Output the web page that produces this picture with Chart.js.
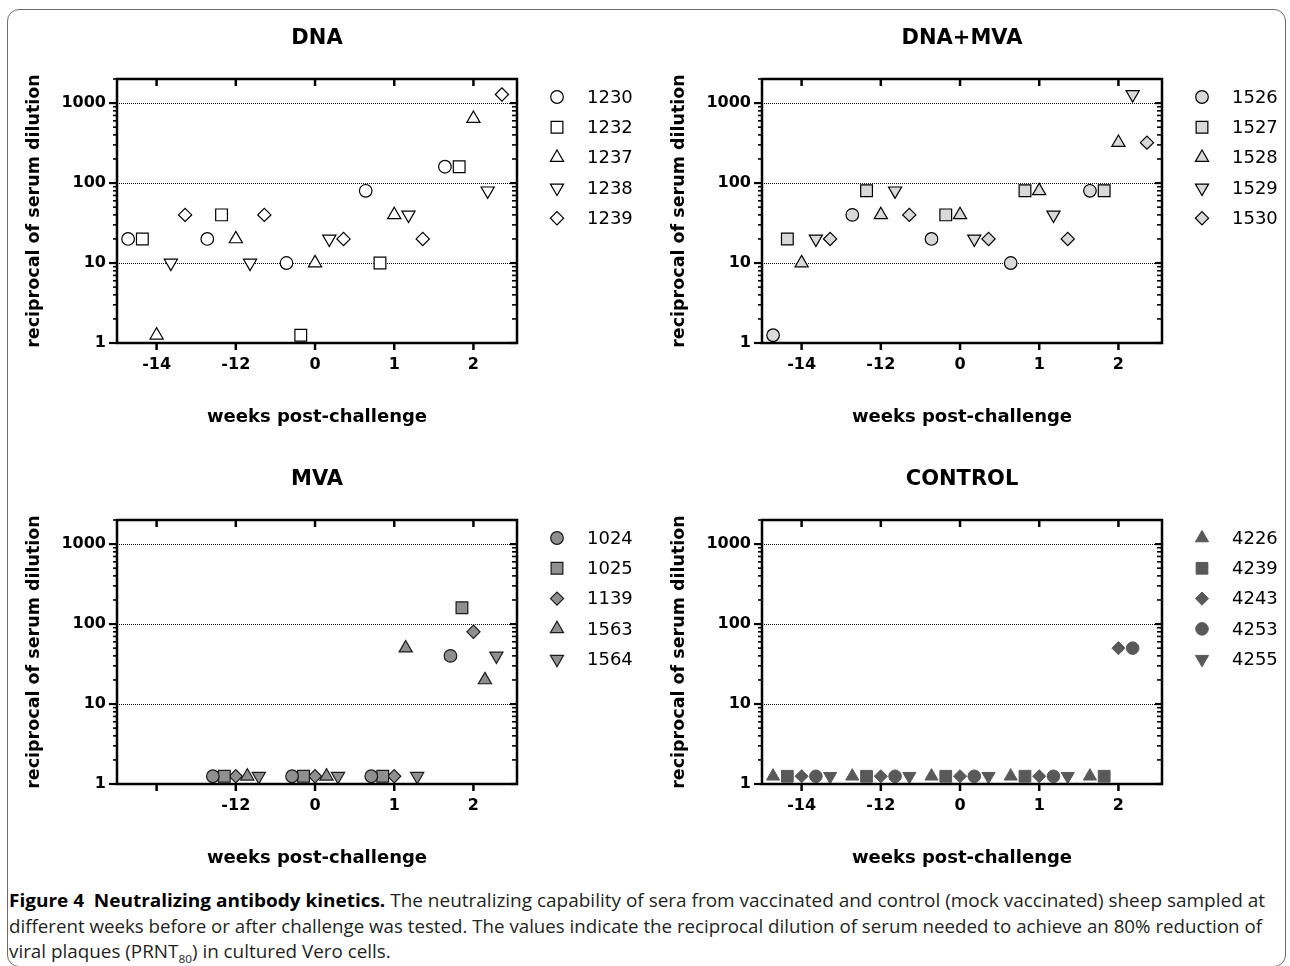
<!DOCTYPE html>
<html>
<head>
<meta charset="utf-8">
<script src="https://cdn.jsdelivr.net/npm/chart.js@4.4.1/dist/chart.umd.min.js"></script>
<style>
  html, body { margin: 0; padding: 0; background: #fff; }
  body { width: 1290px; height: 966px; position: relative; overflow: hidden; }
  .moldura { position: absolute; left: 7px; top: 9px; width: 1277px; height: 956px; border: 1px solid #6b6b6b; border-radius: 12px; }
  .painel { position: absolute; }
  .legenda { position: absolute; left: 9px; display: inline-block; white-space: nowrap; font-family: "Open Sans", sans-serif; font-size: 17.5px; line-height: 26px; color: #231f20; transform-origin: 0 50%; }
  .legenda b { color: #000; font-weight: 700; }
  .legenda sub { font-size: 11px; line-height: 0; }
</style>
</head>
<body>
<div class="moldura"></div>
<canvas id="gDna" class="painel" width="645" height="440" style="left:0;top:0"></canvas>
<canvas id="gDnaMva" class="painel" width="645" height="440" style="left:645px;top:0"></canvas>
<canvas id="gMva" class="painel" width="645" height="440" style="left:0;top:441px"></canvas>
<canvas id="gControle" class="painel" width="645" height="440" style="left:645px;top:441px"></canvas>

<div class="legenda" id="linha1" style="top:887px"><b>Figure 4&nbsp; Neutralizing antibody kinetics.</b> The neutralizing capability of sera from vaccinated and control (mock vaccinated) sheep sampled at</div>
<div class="legenda" id="linha2" style="top:913px">different weeks before or after challenge was tested. The values indicate the reciprocal dilution of serum needed to achieve an 80% reduction of</div>
<div class="legenda" id="linha3" style="top:938px">viral plaques (PRNT<sub>80</sub>) in cultured Vero cells.</div>

<script>
// Semanas (categorias do eixo x)
const semanas = ['-14', '-12', '0', '1', '2'];
// No painel MVA não há rótulo na semana -14
const semanasMva = ['', '-12', '0', '1', '2'];
// Marcas do eixo y (log)
const marcasY = [1, 10, 100, 1000];

// DNA
const dnaAnimais = ['1230', '1232', '1237', '1238', '1239'];
const dna1230 = [20, 20, 10, 80, 160];
const dna1232 = [20, 40, 1.25, 10, 160];
const dna1237 = [1.25, 20, 10, 40, 640];
const dna1238 = [10, 10, 20, 40, 80];
const dna1239 = [40, 40, 20, 20, 1280];

// DNA+MVA
const dnaMvaAnimais = ['1526', '1527', '1528', '1529', '1530'];
const dnaMva1526 = [1.25, 40, 20, 10, 80];
const dnaMva1527 = [20, 80, 40, 80, 80];
const dnaMva1528 = [10, 40, 40, 80, 320];
const dnaMva1529 = [20, 80, 20, 40, 1280];
const dnaMva1530 = [20, 40, 20, 20, 320];

// MVA
const mvaAnimais = ['1024', '1025', '1139', '1563', '1564'];
const mva1024 = [null, 1.25, 1.25, 1.25, 40];
const mva1025 = [null, 1.25, 1.25, 1.25, 160];
const mva1139 = [null, 1.25, 1.25, 1.25, 80];
const mva1563 = [null, 1.25, 1.25, 50, 20];
const mva1564 = [null, 1.25, 1.25, 1.25, 40];

// CONTROL
const controleAnimais = ['4226', '4239', '4243', '4253', '4255'];
const ctrl4226 = [1.25, 1.25, 1.25, 1.25, 1.25];
const ctrl4239 = [1.25, 1.25, 1.25, 1.25, 1.25];
const ctrl4243 = [1.25, 1.25, 1.25, 1.25, 50];
const ctrl4253 = [1.25, 1.25, 1.25, 1.25, 50];
const ctrl4255 = [1.25, 1.25, 1.25, 1.25, null];

const fonte = '"DejaVu Sans", sans-serif';

// Formas dos marcadores
const formas = {
  circulo: { pointStyle: 'circle', r: 6.3, rot: 0 },
  quadrado: { pointStyle: 'rect', r: 8.3, rot: 0 },
  triangulo: { pointStyle: 'triangle', r: 7.6, rot: 0 },
  invertido: { pointStyle: 'triangle', r: 7.6, rot: 180 },
  losango: { pointStyle: 'rectRot', r: 6.6, rot: 0 }
};

// Desenha moldura, marcas dos eixos, títulos e legenda
const decoracao = {
  id: 'decoracao',
  afterDraw(chart, args, opts) {
    const { ctx, chartArea: a, scales: { x, y } } = chart;
    ctx.save();
    ctx.strokeStyle = '#000';
    ctx.lineWidth = 2.5;
    ctx.strokeRect(a.left, a.top, a.right - a.left, a.bottom - a.top);

    const linha = (x1, y1, x2, y2) => {
      ctx.beginPath(); ctx.moveTo(x1, y1); ctx.lineTo(x2, y2); ctx.stroke();
    };
    // marcas do eixo x (em baixo para fora, em cima para dentro)
    ctx.lineWidth = 2.5;
    x.ticks.forEach(t => {
      const px = x.getPixelForValue(t.value);
      linha(px, a.bottom, px, a.bottom + 7);
      linha(px, a.top, px, a.top + 7);
    });
    // marcas maiores e menores do eixo y
    for (let k = 0; k < 4; k++) {
      for (let m = 1; m <= 9; m++) {
        const v = m * Math.pow(10, k);
        if (v > y.max) break;
        const py = y.getPixelForValue(v);
        const maior = m === 1;
        ctx.lineWidth = maior ? 2.2 : 1.6;
        linha(a.left - (maior ? 8 : 4), py, a.left, py);
        linha(a.right, py, a.right - (maior ? 7 : 5), py);
      }
    }

    // títulos
    ctx.fillStyle = '#000';
    ctx.textAlign = 'center';
    ctx.textBaseline = 'middle';
    ctx.font = 'bold 21px ' + fonte;
    ctx.fillText(opts.titulo, (a.left + a.right) / 2, a.top - 40);
    ctx.font = 'bold 18px ' + fonte;
    ctx.fillText('weeks post-challenge', (a.left + a.right) / 2, a.bottom + 74);
    ctx.save();
    ctx.translate(34, (a.top + a.bottom) / 2);
    ctx.rotate(-Math.PI / 2);
    ctx.font = 'bold 17.5px ' + fonte;
    ctx.fillText('reciprocal of serum dilution', 0, 0);
    ctx.restore();

    // legenda
    ctx.textAlign = 'left';
    ctx.font = '18px ' + fonte;
    chart.data.datasets.forEach((ds, i) => {
      const ly = a.top + 18 + i * 30.3;
      ctx.fillStyle = ds.backgroundColor;
      ctx.strokeStyle = ds.borderColor;
      ctx.lineWidth = ds.borderWidth;
      Chart.helpers.drawPoint(ctx, {
        pointStyle: ds.pointStyle,
        radius: ds.pointRadius,
        rotation: ds.pointRotation,
        borderWidth: ds.borderWidth
      }, a.right + 40, ly);
      ctx.fillStyle = '#000';
      ctx.fillText(ds.label, a.right + 70, ly + 1);
    });
    ctx.restore();
  }
};

function criaPainel(id, titulo, animais, series, estilos, cores, largura, rotulosX) {
  const desloc = [-largura, -largura / 2, 0, largura / 2, largura];
  const datasets = series.map((valores, i) => {
    const f = formas[estilos[i]];
    return {
      label: animais[i],
      data: valores
        .map((v, s) => (v == null ? null : { x: s + desloc[i], y: v }))
        .filter(p => p),
      pointStyle: f.pointStyle,
      pointRadius: f.r,
      pointHoverRadius: f.r,
      pointRotation: f.rot,
      backgroundColor: cores.fundo,
      borderColor: cores.borda,
      borderWidth: cores.espessura,
      showLine: false
    };
  });

  return new Chart(document.getElementById(id), {
    type: 'scatter',
    data: { datasets },
    plugins: [decoracao],
    options: {
      responsive: false,
      animation: false,
      devicePixelRatio: 1,
      layout: { padding: { left: 0, right: 128, top: 79, bottom: 0 } },
      plugins: {
        legend: { display: false },
        title: { display: false },
        tooltip: { enabled: false },
        decoracao: { titulo }
      },
      scales: {
        x: {
          type: 'linear',
          min: -0.5,
          max: 4.55,
          afterBuildTicks: s => { s.ticks = semanas.map((w, i) => ({ value: i })); },
          afterFit: s => { s.height = 97; },
          grid: { display: false, drawTicks: true, tickLength: 7 },
          border: { display: false },
          ticks: {
            callback: v => rotulosX[v],
            autoSkip: false,
            maxRotation: 0,
            padding: 5,
            color: '#000',
            font: { family: fonte, size: 16, weight: 'bold' }
          }
        },
        y: {
          type: 'logarithmic',
          min: 1,
          max: 2000,
          afterBuildTicks: s => { s.ticks = marcasY.map(v => ({ value: v })); },
          afterFit: s => { s.width = 117; },
          grid: {
            color: c => (c.tick && c.tick.value > 1 ? '#000' : 'rgba(0,0,0,0)'),
            lineWidth: 1,
            drawTicks: true,
            tickLength: 8,
            tickColor: 'rgba(0,0,0,0)'
          },
          border: { display: false, dash: [1, 1] },
          ticks: {
            callback: v => String(v),
            padding: 3,
            color: '#000',
            font: { family: fonte, size: 16, weight: 'bold' }
          }
        }
      }
    }
  });
}

criaPainel('gDna', 'DNA', dnaAnimais,
  [dna1230, dna1232, dna1237, dna1238, dna1239],
  ['circulo', 'quadrado', 'triangulo', 'invertido', 'losango'],
  { fundo: '#ffffff', borda: '#000000', espessura: 1.2 }, 0.36, semanas);

criaPainel('gDnaMva', 'DNA+MVA', dnaMvaAnimais,
  [dnaMva1526, dnaMva1527, dnaMva1528, dnaMva1529, dnaMva1530],
  ['circulo', 'quadrado', 'triangulo', 'invertido', 'losango'],
  { fundo: '#d9d9d9', borda: '#000000', espessura: 1.2 }, 0.36, semanas);

criaPainel('gMva', 'MVA', mvaAnimais,
  [mva1024, mva1025, mva1139, mva1563, mva1564],
  ['circulo', 'quadrado', 'losango', 'triangulo', 'invertido'],
  { fundo: '#8f8f8f', borda: '#1a1a1a', espessura: 1.2 }, 0.29, semanasMva);

criaPainel('gControle', 'CONTROL', controleAnimais,
  [ctrl4226, ctrl4239, ctrl4243, ctrl4253, ctrl4255],
  ['triangulo', 'quadrado', 'losango', 'circulo', 'invertido'],
  { fundo: '#595959', borda: '#595959', espessura: 1 }, 0.36, semanas);

// Ajusta a largura das linhas da legenda da figura
const l1 = document.getElementById('linha1');
const l2 = document.getElementById('linha2');
const l3 = document.getElementById('linha3');
const e1 = (1265 - 9) / l1.getBoundingClientRect().width;
const e2 = (1262 - 9) / l2.getBoundingClientRect().width;
l1.style.transform = 'scaleX(' + e1 + ')';
l2.style.transform = 'scaleX(' + e2 + ')';
l3.style.transform = 'scaleX(' + ((e1 + e2) / 2) + ')';
</script>
</body>
</html>
